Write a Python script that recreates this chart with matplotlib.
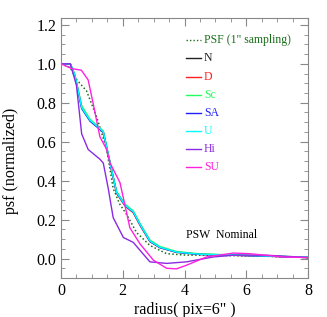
import numpy as np
import matplotlib.pyplot as plt
from matplotlib.ticker import MultipleLocator

# radius (pix) and psf profiles
r_psf = [0, 0.3, 0.5, 0.83, 1.16, 1.48, 1.69, 1.9, 2.13, 2.45, 2.88, 3.42, 4.0, 5.0, 6.0, 7.0, 8.0]
psf = [1.0, 0.98, 0.92, 0.86, 0.725, 0.56, 0.36, 0.28, 0.225, 0.133, 0.067, 0.025, 0.018, 0.016, 0.014, 0.01, 0.005]

r_m = [0, 0.3, 0.45, 0.67, 0.94, 1.26, 1.37, 1.59, 1.8, 2.07, 2.34, 2.56, 2.88, 3.2, 3.74, 4.5, 5.5, 6.5, 8.0]
prof_N = [1.0, 1.0, 0.94, 0.775, 0.71, 0.667, 0.65, 0.49, 0.34, 0.275, 0.24, 0.175, 0.09, 0.058, 0.033, 0.022, 0.018, 0.014, 0.006]
prof_D = [1.0, 1.0, 0.94, 0.78, 0.71, 0.665, 0.645, 0.485, 0.335, 0.27, 0.235, 0.17, 0.087, 0.056, 0.032, 0.021, 0.017, 0.013, 0.005]
prof_Sc = [1.0, 1.0, 0.945, 0.785, 0.715, 0.67, 0.655, 0.495, 0.345, 0.28, 0.245, 0.18, 0.095, 0.062, 0.036, 0.024, 0.019, 0.015, 0.007]
prof_SA = [1.0, 1.0, 0.935, 0.77, 0.705, 0.663, 0.648, 0.488, 0.338, 0.273, 0.238, 0.173, 0.088, 0.056, 0.032, 0.021, 0.017, 0.013, 0.005]
prof_U = [1.0, 1.0, 0.94, 0.775, 0.71, 0.667, 0.65, 0.49, 0.34, 0.275, 0.24, 0.175, 0.09, 0.058, 0.033, 0.022, 0.018, 0.014, 0.006]

r_hi = [0, 0.3, 0.5, 0.67, 0.88, 1.26, 1.37, 1.53, 1.69, 2.02, 2.34, 2.56, 2.88, 3.42, 4.07, 4.93, 5.58, 6.66, 8.0]
prof_Hi = [1.0, 1.0, 0.89, 0.64, 0.56, 0.51, 0.49, 0.36, 0.21, 0.108, 0.083, 0.042, -0.017, -0.025, -0.017, 0.008, 0.017, 0.017, 0.005]

r_su = [0, 0.35, 0.66, 0.88, 1.05, 1.26, 1.48, 1.59, 1.91, 2.07, 2.23, 2.56, 2.99, 3.42, 3.74, 4.07, 4.71, 5.58, 6.1, 7.2, 8.0]
prof_SU = [1.0, 0.975, 0.967, 0.917, 0.79, 0.625, 0.56, 0.49, 0.39, 0.275, 0.158, 0.075, -0.008, -0.05, -0.053, -0.034, 0.008, 0.028, 0.025, 0.008, 0.005]

labels = ['N', 'D', 'Sc', 'SA', 'U', 'Hi', 'SU']
colors = ['#222222', '#ff2020', '#20ff60', '#2020ff', '#00ffff', '#8a2be2', '#ff20e0']

plt.rcParams['font.family'] = ['Liberation Serif', 'DejaVu Serif']

fig = plt.figure(figsize=(3.27, 3.17), dpi=100)
ax = fig.add_axes([0.1865, 0.123, 0.7555, 0.819])

ax.plot(r_psf, psf, ls=(0, (1, 1.5)), color='#1a6e1a', lw=1.1)
profs = [(r_m, prof_N), (r_m, prof_D), (r_m, prof_Sc), (r_m, prof_SA), (r_m, prof_U), (r_hi, prof_Hi), (r_su, prof_SU)]
for (rr, pp), c in zip(profs, colors):
    ax.plot(rr, pp, color=c, lw=1.0)

ax.set_xlim(0, 8)
ax.set_ylim(-0.1, 1.233)
ax.xaxis.set_major_locator(MultipleLocator(2))
ax.xaxis.set_minor_locator(MultipleLocator(0.5))
ax.yaxis.set_major_locator(MultipleLocator(0.2))
ax.yaxis.set_minor_locator(MultipleLocator(0.05))
ax.yaxis.set_major_formatter(plt.FuncFormatter(lambda v, p: f'{v:.1f}'))
ax.tick_params(which='both', direction='in', top=True, right=True, color='#888888', labelsize=11.5)
ax.tick_params(which='major', length=6)
ax.tick_params(which='minor', length=3)
for s in ax.spines.values():
    s.set_color('#888888')
    s.set_linewidth(0.8)

ax.set_xlabel('radius( pix=6" )', fontsize=11.5, labelpad=2)
ax.set_ylabel('psf (normalized)', fontsize=11.5)
ax.yaxis.set_label_coords(-0.17, 0.45)

# legend drawn by hand, IDL style
leg_items = [('PSF (1" sampling)', '#1a6e1a', True)] + [(l, c, False) for l, c in zip(labels, colors)]
y0 = 0.915
dy = 0.0695
for i, (t, c, dotted) in enumerate(leg_items):
    y = y0 - i * dy
    ax.plot([0.505, 0.565], [y, y], transform=ax.transAxes, color=c, lw=1.0,
            ls=(0, (1, 1.5)) if dotted else '-')
    ax.text(0.578, y, t, transform=ax.transAxes, color=c, fontsize=8.5, va='center')

ax.text(0.505, 0.165, 'PSW  Nominal', transform=ax.transAxes, fontsize=8.5, va='center')

fig.savefig('out.png', dpi=100)
